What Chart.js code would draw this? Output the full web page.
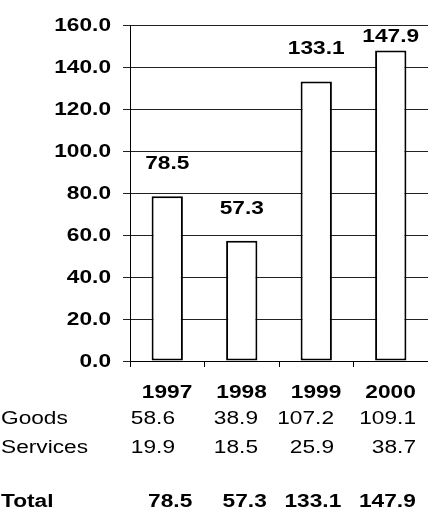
<!DOCTYPE html>
<html>
<head>
<meta charset="utf-8">
<script src="https://cdn.jsdelivr.net/npm/chart.js@4.4.1/dist/chart.umd.min.js"></script>
<style>
  body { margin: 0; background: #fff; }
  #wrap { width: 428px; height: 525px; position: relative; }
</style>
</head>
<body>
<div id="wrap"><canvas id="tradeChart"></canvas></div>
<script>
const years = ['1997', '1998', '1999', '2000'];
const goods = [58.6, 38.9, 107.2, 109.1];
const services = [19.9, 18.5, 25.9, 38.7];
const totals = [78.5, 57.3, 133.1, 147.9];

const FONT = '"Liberation Sans", Arial, sans-serif';
const STRETCH = 1.26; // text is drawn a bit wide

// right edges of the plain number columns in the table
const plainRight = [175, 258, 334, 416];

function wideText(ctx, text, x, y, align, bold) {
    ctx.save();
    ctx.translate(x, y);
    ctx.scale(STRETCH, 1);
    ctx.font = (bold ? 'bold ' : '') + '18px ' + FONT;
    ctx.fillStyle = '#000';
    ctx.textAlign = align;
    ctx.textBaseline = 'middle';
    ctx.fillText(text, 0, 0);
    ctx.restore();
}

const labelsPlugin = {
    id: 'labelsPlugin',
    afterDraw(chart) {
        const ctx = chart.ctx;
        const yScale = chart.scales.y;
        const xScale = chart.scales.x;

        // y axis labels
        yScale.ticks.forEach((t, i) => {
            wideText(ctx, t.value.toFixed(1), 111, yScale.getPixelForTick(i) + 1, 'right', true);
        });

        // value labels above the bars
        const meta = chart.getDatasetMeta(0);
        meta.data.forEach((bar, i) => {
            const y = Math.max(bar.y - 32, chart.chartArea.top + 12);
            wideText(ctx, totals[i].toFixed(1), bar.x, y, 'center', true);
        });

        // table under the chart
        years.forEach((yr, i) => {
            const cx = xScale.getPixelForValue(i);
            wideText(ctx, yr, cx + 25, 393, 'right', true);
            wideText(ctx, goods[i].toFixed(1), plainRight[i], 419, 'right', false);
            wideText(ctx, services[i].toFixed(1), plainRight[i], 448, 'right', false);
            wideText(ctx, totals[i].toFixed(1), cx + 25, 502, 'right', true);
        });
        wideText(ctx, 'Goods', 1, 419, 'left', false);
        wideText(ctx, 'Services', 1, 448, 'left', false);
        wideText(ctx, 'Total', 1, 502, 'left', true);
    }
};

new Chart(document.getElementById('tradeChart'), {
    type: 'bar',
    data: {
        labels: years,
        datasets: [{
            data: totals,
            backgroundColor: '#fff',
            borderColor: '#000',
            borderWidth: 2,
            borderSkipped: false,
            barPercentage: 0.42,
            categoryPercentage: 1
        }]
    },
    options: {
        responsive: true,
        maintainAspectRatio: false,
        animation: false,
        layout: { padding: { top: 25, right: 0, bottom: 0, left: 0 } },
        plugins: { legend: { display: false }, tooltip: { enabled: false } },
        scales: {
            x: {
                ticks: { display: false },
                grid: { drawOnChartArea: false, tickLength: 6, color: '#000', offset: true },
                border: { color: '#000', width: 1 },
                afterFit(scale) { scale.height = 164; }
            },
            y: {
                min: 0,
                max: 160,
                ticks: { display: false, stepSize: 20 },
                grid: { color: '#222', tickLength: 7 },
                border: { color: '#000', width: 1 },
                afterFit(scale) { scale.width = 130; }
            }
        }
    },
    plugins: [labelsPlugin]
});
</script>
</body>
</html>
